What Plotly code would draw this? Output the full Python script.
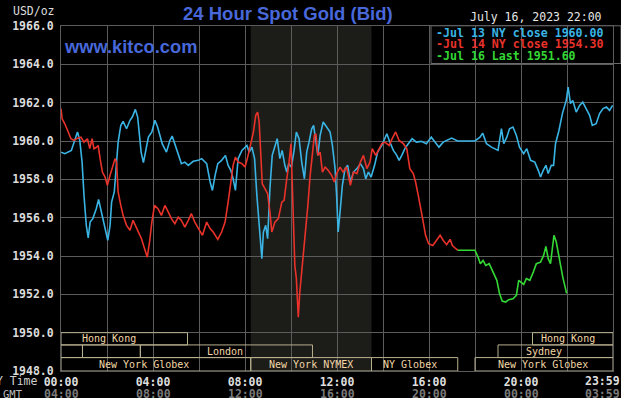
import plotly.graph_objects as go

# ---------------- data (NY time, minutes after midnight) ----------------
t13 = [0, 10, 27, 36, 43, 49, 55, 60, 66, 71, 76, 83, 92, 98, 106, 115, 122, 128, 132, 139,
       145, 149, 156, 162, 171, 180, 186, 194, 200, 204, 209, 215, 221, 228, 237, 245, 252, 258,
       264, 275, 284, 290, 297, 306, 314, 323, 332, 345, 358, 367, 380, 389, 395, 402, 409, 419,
       429, 436, 443, 449, 455, 462, 472, 485, 491, 498, 505, 511, 517, 524, 528, 534, 539, 545,
       551, 558, 564, 571, 577, 584, 589, 594, 601, 608, 614, 621, 628, 635, 641, 647, 654, 659,
       665, 670, 676, 684, 693, 702, 708, 715, 719, 723, 728, 734, 741, 748, 755, 763, 772, 781,
       789, 795, 802, 809, 818, 826, 837, 845, 850, 858, 867, 876, 882, 889, 897, 906, 916, 927,
       940, 953, 966, 976, 986, 997, 1010, 1019, 1035, 1080, 1093, 1100, 1110, 1123, 1140, 1149,
       1155, 1163, 1170, 1179, 1188, 1196, 1207, 1215, 1225, 1236, 1245, 1251, 1258, 1265, 1271,
       1279, 1285, 1290, 1299, 1308, 1318, 1323, 1329, 1335, 1344, 1353, 1361, 1370, 1379, 1386,
       1396, 1405, 1414, 1423, 1431, 1439]
p13 = [1959.42, 1959.34, 1959.51, 1960.12, 1960.47, 1960.03, 1958.90, 1957.16, 1955.60, 1954.94,
       1955.77, 1955.95, 1956.47, 1956.95, 1956.29, 1955.43, 1954.82, 1955.60, 1956.81, 1957.34,
       1958.73, 1959.94, 1960.81, 1961.02, 1960.64, 1961.08, 1961.25, 1961.65, 1961.25, 1960.29,
       1959.42, 1958.87, 1959.51, 1960.20, 1960.47, 1961.08, 1960.73, 1960.29, 1959.86, 1959.42,
       1960.03, 1960.26, 1959.86, 1959.25, 1958.82, 1958.90, 1958.73, 1958.94, 1958.99, 1959.08,
       1958.82, 1957.86, 1957.42, 1958.21, 1958.82, 1958.99, 1959.25, 1958.73, 1958.47, 1958.03,
       1957.42, 1959.08, 1959.51, 1959.77, 1959.42, 1959.68, 1959.08, 1957.16, 1955.60, 1953.86,
       1955.25, 1955.60, 1954.90, 1957.51, 1959.25, 1959.77, 1960.12, 1959.08, 1959.51, 1958.73,
       1958.38, 1958.82, 1958.64, 1959.51, 1960.47, 1960.12, 1958.90, 1958.03, 1959.42, 1959.94,
       1960.64, 1960.81, 1959.86, 1959.25, 1960.29, 1960.99, 1960.73, 1960.47, 1959.77, 1958.56,
       1957.16, 1955.25, 1956.29, 1957.69, 1958.56, 1958.73, 1957.86, 1958.38, 1958.56, 1958.82,
       1958.56, 1958.03, 1958.38, 1958.12, 1958.73, 1959.42, 1959.77, 1960.12, 1960.38, 1959.94,
       1959.51, 1959.25, 1958.99, 1959.25, 1959.60, 1959.86, 1960.12, 1959.94, 1959.98, 1959.86,
       1960.20, 1959.94, 1959.68, 1959.94, 1960.08, 1960.15, 1960.00, 1960.00, 1960.20, 1960.41,
       1959.86, 1959.68, 1959.51, 1960.64, 1959.86, 1960.20, 1960.64, 1960.73, 1960.29, 1959.68,
       1959.34, 1959.60, 1958.99, 1958.90, 1958.47, 1958.12, 1958.47, 1958.73, 1958.30, 1958.73,
       1958.73, 1959.86, 1960.55, 1961.43, 1962.12, 1962.81, 1961.95, 1962.12, 1961.51, 1961.86,
       1962.03, 1961.69, 1961.34, 1960.81, 1960.90, 1961.43, 1961.69, 1961.77, 1961.60, 1961.86]

t14 = [0, 3, 10, 19, 26, 34, 43, 52, 60, 69, 75, 81, 86, 93, 97, 102, 108, 115, 121, 128, 134,
       141, 145, 149, 156, 162, 171, 180, 188, 194, 201, 210, 218, 225, 231, 237, 244, 253, 262,
       271, 280, 288, 297, 306, 314, 323, 332, 340, 349, 358, 369, 380, 389, 397, 409, 419, 428,
       436, 443, 449, 455, 462, 472, 480, 487, 496, 502, 508, 513, 517, 520, 525, 532, 539, 545,
       550, 558, 567, 576, 582, 589, 594, 600, 603, 607, 610, 614, 619, 623, 630, 637, 644, 650,
       656, 661, 665, 670, 676, 682, 689, 697, 706, 713, 719, 728, 736, 745, 755, 763, 772, 781,
       789, 798, 806, 812, 821, 830, 837, 845, 856, 864, 873, 882, 893, 902, 910, 919, 925, 932,
       939, 945, 951, 959, 970, 979, 989, 997, 1006, 1015, 1021, 1030, 1035]
p14 = [1961.69, 1961.16, 1960.90, 1960.47, 1960.12, 1960.03, 1960.15, 1960.20, 1959.94, 1960.12,
       1959.60, 1960.12, 1959.60, 1959.68, 1959.77, 1959.08, 1958.38, 1958.12, 1957.69, 1958.21,
       1958.64, 1959.08, 1958.90, 1957.34, 1956.64, 1956.12, 1955.60, 1955.34, 1955.86, 1955.60,
       1955.25, 1954.90, 1954.38, 1953.94, 1954.73, 1955.77, 1956.64, 1956.47, 1956.12, 1956.64,
       1956.29, 1955.95, 1955.69, 1956.03, 1955.86, 1955.51, 1955.86, 1956.21, 1955.77, 1955.43,
       1955.08, 1955.77, 1955.43, 1955.25, 1954.87, 1955.25, 1955.77, 1956.81, 1957.86, 1958.73,
       1959.16, 1958.90, 1958.82, 1958.64, 1959.16, 1959.86, 1960.47, 1961.34, 1961.51, 1960.99,
       1959.42, 1957.77, 1957.51, 1957.25, 1956.29, 1955.25, 1955.77, 1955.95, 1956.81, 1956.90,
       1958.03, 1958.73, 1959.86, 1957.69, 1955.08, 1953.51, 1952.82, 1950.81, 1952.12, 1953.51,
       1955.25, 1956.64, 1958.21, 1959.25, 1960.29, 1960.38, 1959.25, 1959.42, 1958.38, 1958.64,
       1958.47, 1958.21, 1957.86, 1958.30, 1958.64, 1958.38, 1958.64, 1957.69, 1958.38, 1958.30,
       1958.90, 1959.25, 1958.56, 1958.90, 1959.60, 1959.25, 1959.60, 1959.86, 1959.94, 1959.77,
       1960.12, 1960.47, 1960.03, 1959.86, 1959.60, 1958.56, 1958.30, 1957.86, 1957.16, 1956.47,
       1955.77, 1955.08, 1954.64, 1954.55, 1954.82, 1955.08, 1954.82, 1954.59, 1954.87, 1954.55,
       1954.38, 1954.30]

t16 = [1035, 1080, 1088, 1094, 1101, 1108, 1117, 1123, 1129, 1137, 1144, 1151, 1160, 1168, 1179,
       1188, 1194, 1201, 1207, 1214, 1223, 1232, 1240, 1251, 1259, 1265, 1271, 1277, 1282, 1286,
       1292, 1301, 1309, 1319]
p16 = [1954.30, 1954.30, 1953.94, 1953.60, 1953.77, 1953.51, 1953.60, 1953.34, 1953.08, 1952.73,
       1952.04, 1951.65, 1951.60, 1951.72, 1951.77, 1951.95, 1952.73, 1952.64, 1952.52, 1952.82,
       1952.73, 1953.16, 1953.60, 1953.68, 1954.03, 1954.50, 1953.86, 1953.60, 1954.64, 1955.08,
       1954.73, 1953.77, 1952.90, 1952.05]

series_names = ["Jul 13 NY close 1960.00", "Jul 14 NY close 1954.30", "Jul 16 Last 1951.60"]
series_colors = ["#3ab4e4", "#e8322a", "#34d834"]

y_ticks = [1948, 1950, 1952, 1954, 1956, 1958, 1960, 1962, 1964, 1966]
x_ticks = [0, 240, 480, 720, 960, 1200, 1439]
ny_labels = ["00:00", "04:00", "08:00", "12:00", "16:00", "20:00", "23:59"]
gmt_labels = ["04:00", "08:00", "12:00", "16:00", "20:00", "00:00", "03:59"]

# trading sessions: name, start, end (minutes NY time), row (0 = top)
sess_names = ["Hong Kong", "Hong Kong", "", "", "London", "Sydney",
              "New York Globex", "New York NYMEX", "NY Globex", "New York Globex"]
sess_start = [0, 1230, 0, 56, 207, 1140, 0, 495, 810, 1080]
sess_end = [330, 1440, 56, 207, 656, 1440, 495, 810, 1035, 1440]
sess_row = [0, 0, 1, 1, 1, 1, 2, 2, 2, 2]
sess_label_at = [126, 1322, None, None, 428, 1259, 217, 653, 910, 1257]
pit_start, pit_end = 495, 810

# ---------------- figure ----------------
W, H = 621, 398
ML, MR, MT, MB = 61, 8, 26, 27


def fx(px):
    return (px - ML) / (W - ML - MR)


def fy(py):
    return 1 - (py - MT) / (H - MT - MB)


MONO = "DejaVu Sans Mono"
SANS = "Liberation Sans, Arial"
GRID = "#5c5c5c"
TAN_LINE = "#b9b08e"
TAN_TEXT = "#f2d6a6"
NY_COLOR = "#dedede"
GMT_COLOR = "#7a7a7a"

fig = go.Figure()
for t, p, c in [(t13, p13, series_colors[0]), (t14, p14, series_colors[1]), (t16, p16, series_colors[2])]:
    fig.add_trace(go.Scatter(x=t, y=p, mode="lines", line=dict(color=c, width=1.6),
                             showlegend=False, hoverinfo="skip"))

shapes = []
# NYMEX pit session shading
shapes.append(dict(type="rect", xref="x", yref="paper", x0=pit_start, x1=pit_end, y0=0, y1=1,
                   fillcolor="#1c1c19", line=dict(width=0), layer="below"))

row_bounds = [(1949.36, 1950.0), (1948.70, 1949.36), (1948.0, 1948.70)]
annotations = []
for name, s, e, r, lx in zip(sess_names, sess_start, sess_end, sess_row, sess_label_at):
    y0, y1 = row_bounds[r]
    shapes.append(dict(type="rect", xref="x", yref="y", x0=s, x1=e, y0=y0, y1=y1,
                       line=dict(color=TAN_LINE, width=1), fillcolor="rgba(0,0,0,0)", layer="above"))
    if name:
        annotations.append(dict(x=lx, y=(y0 + y1) / 2, xref="x", yref="y", text=name,
                                showarrow=False, font=dict(family=MONO, size=10, color=TAN_TEXT),
                                xanchor="center", yanchor="middle", borderpad=0))

# legend box
shapes.append(dict(type="rect", xref="paper", yref="paper", x0=fx(431), x1=fx(621), y0=fy(63.5), y1=fy(25.8),
                   fillcolor="#000000", line=dict(color="#6a6a6a", width=1), layer="between"))
for i, (nm, c) in enumerate(zip(series_names, series_colors)):
    annotations.append(dict(x=fx(435), y=fy(32.5 + 12 * i), xref="paper", yref="paper", text="-" + nm,
                            showarrow=False, xanchor="left", yanchor="middle", borderpad=0,
                            font=dict(family=MONO, size=11.6, color=c, weight="bold")))

# titles / texts
annotations += [
    dict(x=fx(288), y=fy(14), xref="paper", yref="paper", text="<b>24 Hour Spot Gold (Bid)</b>",
         showarrow=False, xanchor="center", yanchor="middle",
         font=dict(family=SANS, size=18.5, color="#4868da")),
    dict(x=fx(62), y=fy(47), xref="paper", yref="paper", text="<b>www.kitco.com</b>",
         showarrow=False, xanchor="left", yanchor="middle",
         font=dict(family=SANS, size=18.3, color="#4868da")),
    dict(x=fx(56), y=fy(11.5), xref="paper", yref="paper", text="USD/oz",
         showarrow=False, xanchor="right", yanchor="middle", borderpad=0,
         font=dict(family=MONO, size=11.5, color="#dcdcdc")),
    dict(x=fx(603), y=fy(17), xref="paper", yref="paper", text="July 16, 2023 22:00",
         showarrow=False, xanchor="right", yanchor="middle", borderpad=0,
         font=dict(family=MONO, size=11.5, color="#e6e6e6")),
    dict(x=fx(39), y=fy(381), xref="paper", yref="paper", text="NY Time",
         showarrow=False, xanchor="right", yanchor="middle", borderpad=0,
         font=dict(family=MONO, size=11.5, color="#cfcfcf")),
    dict(x=fx(24), y=fy(393.5), xref="paper", yref="paper", text="GMT",
         showarrow=False, xanchor="right", yanchor="middle", borderpad=0,
         font=dict(family=MONO, size=10.5, color="#bdbdbd")),
]
# last tick labels sit inside the right edge of the page
annotations.append(dict(x=fx(621), y=fy(381), xref="paper", yref="paper", text=ny_labels[-1],
                        showarrow=False, xanchor="right", yanchor="middle", borderpad=0,
                        font=dict(family=MONO, size=11.5, color=NY_COLOR, weight="bold")))
for i, (xv, g) in enumerate(zip(x_ticks, gmt_labels)):
    last = i == len(x_ticks) - 1
    annotations.append(dict(x=fx(621) if last else xv, y=fy(394.5), xref="paper" if last else "x",
                            yref="paper", text=g, showarrow=False, borderpad=0,
                            xanchor="right" if last else "center", yanchor="middle",
                            font=dict(family=MONO, size=11.5, color=GMT_COLOR, weight="bold")))

fig.update_layout(
    width=W, height=H, margin=dict(l=ML, r=MR, t=MT, b=MB, autoexpand=False),
    paper_bgcolor="#000000", plot_bgcolor="#000000",
    shapes=shapes, annotations=annotations, showlegend=False,
    xaxis=dict(range=[0, 1440], tickvals=x_ticks[:-1], ticktext=ny_labels[:-1], showgrid=False,
               minor=dict(dtick=120, tick0=0, showgrid=True, gridcolor=GRID, gridwidth=1, ticks=""),
               showline=True, linecolor=GRID, mirror=True, zeroline=False, ticks="",
               tickfont=dict(family=MONO, size=11.5, color=NY_COLOR, weight="bold"),
               ticklabelstandoff=0, automargin=False, fixedrange=True),
    yaxis=dict(range=[1948, 1966], tickvals=y_ticks, tickformat=".1f", showgrid=True, gridcolor=GRID,
               gridwidth=1, showline=True, linecolor=GRID, mirror=True, zeroline=False, ticks="",
               tickfont=dict(family=MONO, size=11.5, color="#dcdcdc", weight="bold"),
               ticklabelstandoff=4, automargin=False, fixedrange=True),
)

fig.write_html("out.html", config={"displayModeBar": False},
               post_script="document.body.style.margin='0';document.body.style.overflow='hidden';")
